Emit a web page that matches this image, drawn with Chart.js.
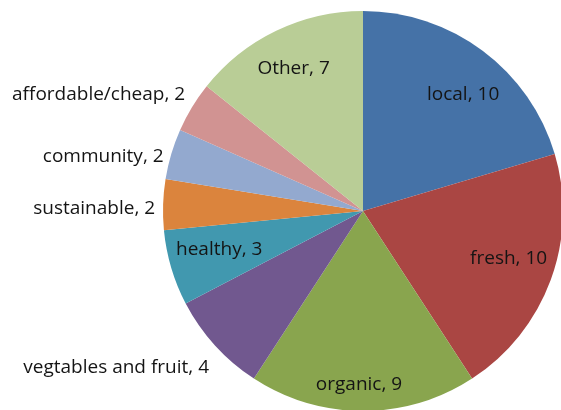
<!DOCTYPE html>
<html>
<head>
<meta charset="utf-8">
<script src="https://cdn.jsdelivr.net/npm/chart.js@4"></script>
<style>
    html, body { margin: 0; padding: 0; background: #fff; overflow: hidden; }
    #wrap { width: 561px; height: 410px; }
</style>
</head>
<body>
<div id="wrap"><canvas id="pieChart"></canvas></div>
<script>
// data kategori dan nilai
var labels = ["local", "fresh", "organic", "vegtables and fruit", "healthy", "sustainable", "community", "affordable/cheap", "Other"];
var values = [10, 10, 9, 4, 3, 2, 2, 2, 7];
var colors = ["#4572A7", "#AA4643", "#89A54E", "#71588F", "#4198AF", "#DB843D", "#93A9CF", "#D19392", "#B9CD96"];

// posisi label: di dalam (jarak relatif dari pusat) atau di luar (rata kanan)
var labelPlace = [
    { r: 0.77, dx: 8, dy: 7 },
    { r: 0.76, dx: 3, dy: -5 },
    { r: 0.865, dx: -4, dy: 1 },
    { r: 1.04, dx: 0, dy: 17, outside: true },
    { r: 0.75, dx: 0, dy: -4 },
    { r: 1.04, dx: 0, dy: 4, outside: true },
    { r: 1.04, dx: 0, dy: 5, outside: true },
    { r: 1.04, dx: 0, dy: -9, outside: true },
    { r: 0.8, dx: 0, dy: 2 },
];

var sliceLabels = {
    id: "sliceLabels",
    afterDatasetsDraw: function (chart) {
        var ctx = chart.ctx;
        var meta = chart.getDatasetMeta(0);
        ctx.save();
        ctx.font = "19px 'Open Sans'";
        ctx.fillStyle = "#141414";
        ctx.textBaseline = "middle";
        meta.data.forEach(function (arc, i) {
            var p = arc.getProps(["x", "y", "startAngle", "endAngle", "outerRadius"], true);
            var mid = (p.startAngle + p.endAngle) / 2;
            var rr = p.outerRadius * labelPlace[i].r;
            var x = p.x + Math.cos(mid) * rr + labelPlace[i].dx;
            var y = p.y + Math.sin(mid) * rr + labelPlace[i].dy;
            ctx.textAlign = labelPlace[i].outside ? "right" : "center";
            ctx.fillText(labels[i] + ", " + values[i], x, y);
        });
        ctx.restore();
    },
};

var ctx = document.getElementById("pieChart").getContext("2d");
var pieChart = new Chart(ctx, {
    type: "pie",
    data: {
        labels: labels,
        datasets: [
            {
                data: values,
                backgroundColor: colors,
                borderWidth: 0,
                radius: 200,
            },
        ],
    },
    options: {
        responsive: true,
        maintainAspectRatio: false,
        animation: false,
        layout: {
            padding: { left: 165, right: 0, top: 12, bottom: 0 },
        },
        plugins: {
            legend: { display: false },
            tooltip: { enabled: false },
        },
    },
    plugins: [sliceLabels],
});
</script>
</body>
</html>
